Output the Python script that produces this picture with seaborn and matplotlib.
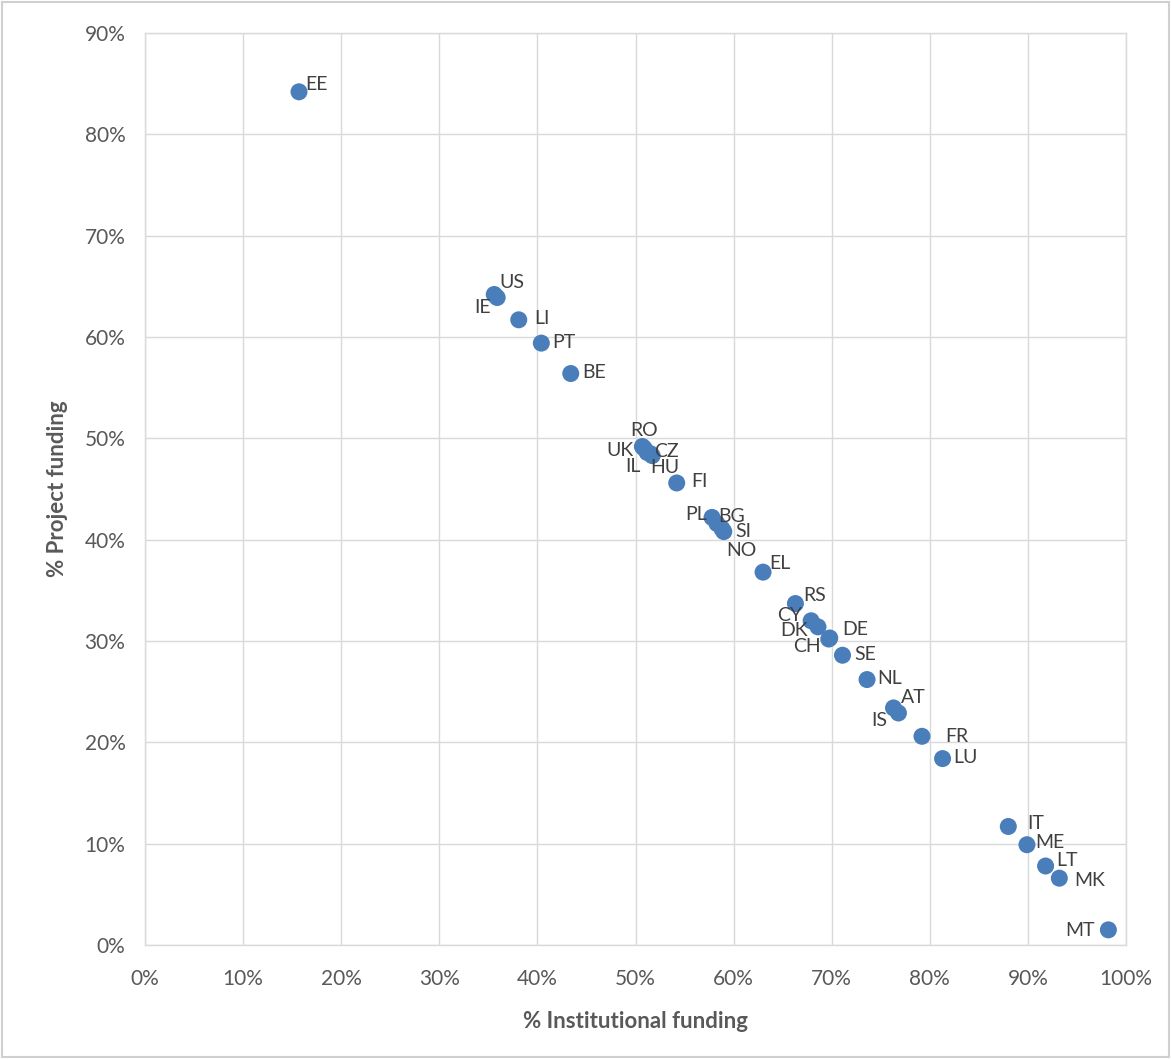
import pandas as pd
import matplotlib.pyplot as plt
import seaborn as sns
from matplotlib.ticker import PercentFormatter
from matplotlib.patches import Rectangle

countries = ['EE', 'US', 'IE', 'LI', 'PT', 'BE', 'RO', 'UK', 'IL', 'CZ', 'HU',
             'FI', 'PL', 'BG', 'NO', 'SI', 'EL', 'RS', 'CY', 'DK', 'DE', 'CH',
             'SE', 'NL', 'AT', 'IS', 'FR', 'LU', 'IT', 'ME', 'LT', 'MK', 'MT']
institutional = [15.7, 35.6, 35.9, 38.1, 40.4, 43.4, 50.7, 50.9, 51.2, 51.5, 51.7,
                 54.2, 57.8, 58.3, 58.8, 59.0, 63.0, 66.3, 67.9, 68.6, 69.8, 69.7,
                 71.1, 73.6, 76.3, 76.8, 79.2, 81.3, 88.0, 89.9, 91.8, 93.2, 98.2]
project = [84.2, 64.2, 63.9, 61.7, 59.4, 56.4, 49.2, 49.0, 48.6, 48.5, 48.3,
           45.6, 42.2, 41.6, 41.1, 40.8, 36.8, 33.7, 32.0, 31.4, 30.3, 30.2,
           28.6, 26.2, 23.4, 22.9, 20.6, 18.4, 11.7, 9.9, 7.8, 6.6, 1.5]

# label centre offsets in pixels (right, up); anything missing sits to the right
label_off = {'EE': (18, 7), 'US': (18, 12), 'IE': (-15, -10), 'RO': (2, 16),
             'UK': (-24, -2), 'IL': (-14, -14), 'CZ': (16, 2), 'HU': (13, -12),
             'PL': (-16, 3), 'BG': (15, 7), 'SI': (20, 0), 'NO': (20, -22),
             'EL': (17, 9), 'RS': (19, 8), 'CY': (-21, 5), 'DK': (-24, -4),
             'DE': (25, 9), 'CH': (-22, -7), 'AT': (20, 10), 'IS': (-19, -8),
             'FR': (35, 0), 'IT': (27, 3), 'ME': (23, 2), 'LT': (21, 6),
             'MK': (30, -2), 'MT': (-28, -1)}

df = pd.DataFrame({'country': countries, 'inst': institutional, 'proj': project})

sns.set_theme(style="whitegrid")
plt.rcParams['font.family'] = ['Lato', 'DejaVu Sans']

fig = plt.figure(figsize=(11.71, 10.59), dpi=100)
ax = fig.add_axes([0.1238, 0.1076, 0.8378, 0.8612])

sns.scatterplot(data=df, x='inst', y='proj', ax=ax, color='#4a7ebb', s=150,
                edgecolor='none', zorder=3)

for _, r in df.iterrows():
    off = label_off.get(r['country'], (23, 1))
    ax.annotate(r['country'], (r['inst'], r['proj']), xytext=off,
                textcoords='offset pixels', ha='center', va='center',
                fontsize=14, color='#404040')

ax.set_xlim(0, 100)
ax.set_ylim(0, 90)
ax.set_xticks(range(0, 101, 10))
ax.set_yticks(range(0, 91, 10))
ax.xaxis.set_major_formatter(PercentFormatter(decimals=0))
ax.yaxis.set_major_formatter(PercentFormatter(decimals=0))
ax.tick_params(labelsize=15, colors='#595959')
ax.tick_params(axis='x', pad=11)
ax.tick_params(axis='y', pad=8)
ax.grid(color='#d9d9d9', linewidth=1)
for s in ax.spines.values():
    s.set_color('#d9d9d9')
    s.set_linewidth(1)

ax.set_xlabel('% Institutional funding', fontsize=16, fontweight='bold',
              color='#595959', labelpad=16)
ax.set_ylabel('% Project funding', fontsize=16, fontweight='bold',
              color='#595959', labelpad=12)

fig.patches.append(Rectangle((0.002, 0.002), 0.996, 0.996, transform=fig.transFigure,
                             fill=False, edgecolor='#d0d0d0', linewidth=1.5))

fig.savefig('out.png', dpi=100)
